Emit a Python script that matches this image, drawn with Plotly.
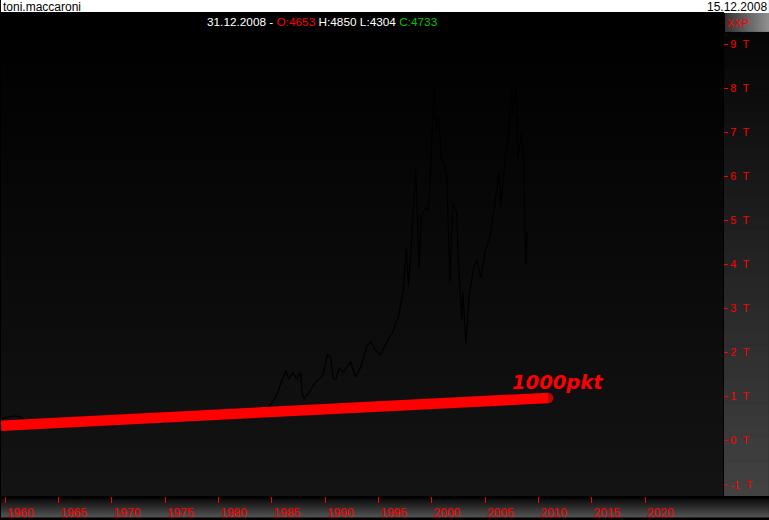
import plotly.graph_objects as go

# ---------------- data ----------------
dax_years = [1959.6, 1960.0, 1960.7, 1961.3, 1962.0, 1962.5, 1963.0, 1964.0, 1965.0, 1966.7,
             1967.0, 1968.0, 1969.5, 1969.9, 1970.5, 1971.0, 1972.0, 1973.0, 1974.7, 1975.0,
             1976.0, 1977.0, 1978.0, 1979.0, 1980.0, 1981.0, 1982.5, 1983.0, 1983.6, 1984.0,
             1984.5, 1985.0, 1985.5, 1985.9, 1986.3, 1986.6, 1987.0, 1987.3, 1987.7, 1987.85,
             1988.0, 1988.5, 1989.0, 1989.8, 1990.2, 1990.5, 1990.75, 1991.0, 1991.3, 1991.7,
             1992.4, 1992.8, 1993.3, 1993.9, 1994.3, 1994.7, 1995.2, 1995.7, 1996.3, 1996.9,
             1997.3, 1997.6, 1997.8, 1998.0, 1998.5, 1998.8, 1999.0, 1999.4, 1999.7, 2000.0,
             2000.2, 2000.4, 2000.6, 2000.9, 2001.1, 2001.4, 2001.7, 2001.95, 2002.3, 2002.5,
             2002.8, 2002.9, 2003.2, 2003.5, 2003.9, 2004.2, 2004.6, 2005.0, 2005.5, 2005.9,
             2006.3, 2006.45, 2006.9, 2007.2, 2007.5, 2007.6, 2007.9, 2008.05, 2008.4, 2008.6,
             2008.8, 2008.95]
dax_values = [0.50, 0.52, 0.56, 0.55, 0.45, 0.38, 0.42, 0.45, 0.40, 0.32,
              0.35, 0.45, 0.55, 0.56, 0.42, 0.45, 0.52, 0.45, 0.38, 0.45,
              0.50, 0.52, 0.57, 0.52, 0.48, 0.50, 0.48, 0.65, 0.75, 0.78,
              0.72, 0.85, 1.05, 1.35, 1.58, 1.40, 1.55, 1.40, 1.55, 1.05,
              0.95, 1.10, 1.30, 1.50, 1.95, 1.90, 1.40, 1.40, 1.65, 1.55,
              1.80, 1.45, 1.65, 2.15, 2.25, 2.05, 1.95, 2.20, 2.45, 2.85,
              3.40, 4.40, 3.50, 4.20, 6.15, 3.90, 5.10, 5.30, 5.20, 6.90,
              8.05, 7.10, 7.40, 6.40, 6.30, 6.00, 3.60, 5.40, 5.20, 4.00,
              2.75, 3.40, 2.20, 3.30, 3.90, 4.10, 3.70, 4.30, 4.70, 5.40,
              6.10, 5.30, 6.50, 7.00, 8.05, 7.40, 8.00, 6.40, 7.00, 6.40,
              4.00, 4.73]

trend_years = [1959.6, 2010.9]
trend_values = [0.34, 0.97]

x_tick_years = [1960, 1965, 1970, 1975, 1980, 1985, 1990, 1995, 2000, 2005, 2010, 2015, 2020]
x_tick_labels = [str(y) for y in x_tick_years]
y_tick_vals = [-1, 0, 1, 2, 3, 4, 5, 6, 7, 8, 9]
y_tick_labels = [f"{v}\u00a0\u00a0T" for v in y_tick_vals]

# ---------------- layout geometry ----------------
W, H = 769, 520
ML, MR, MT, MB = 0, 46, 13, 21
PW, PH = W - ML - MR, H - MT - MB

def px(x):
    return (x - ML) / PW

def py(y):
    return (H - MB - y) / PH

def lerp_col(c0, c1, t):
    a = [int(c0[i:i + 2], 16) for i in (1, 3, 5)]
    b = [int(c1[i:i + 2], 16) for i in (1, 3, 5)]
    c = [round(a[k] + (b[k] - a[k]) * t) for k in range(3)]
    return "rgb(%d,%d,%d)" % tuple(c)

shapes = []

def vgrad(x0, x1, y0, y1, c0, c1, n):
    h = (y1 - y0) / n
    for i in range(n):
        t = i / max(n - 1, 1)
        shapes.append(dict(type="rect", xref="paper", yref="paper",
                           x0=px(x0), x1=px(x1), y0=py(y0 + i * h), y1=py(y0 + (i + 1) * h + 0.6),
                           fillcolor=lerp_col(c0, c1, t), line=dict(width=0), layer="below"))

def hgrad(x0, x1, y0, y1, c0, c1, n):
    w = (x1 - x0) / n
    for i in range(n):
        t = i / max(n - 1, 1)
        shapes.append(dict(type="rect", xref="paper", yref="paper",
                           x0=px(x0 + i * w), x1=px(x0 + (i + 1) * w + 0.6), y0=py(y0), y1=py(y1),
                           fillcolor=lerp_col(c0, c1, t), line=dict(width=0), layer="below"))

# top white bar
shapes.append(dict(type="rect", xref="paper", yref="paper", x0=px(0), x1=px(W), y0=py(0), y1=py(13),
                   fillcolor="#ffffff", line=dict(width=0), layer="below"))
# plot area gradient
vgrad(0, 723, 13, 499, "#000000", "#131313", 40)
# right axis panel
vgrad(724, 769, 32, 499, "#050505", "#424242", 40)
# XXP box
hgrad(725, 769, 13, 32, "#353535", "#8e8e8e", 22)
# bottom strip
shapes.append(dict(type="rect", xref="paper", yref="paper", x0=px(0), x1=px(W), y0=py(499), y1=py(501.5),
                   fillcolor="#000000", line=dict(width=0), layer="below"))
vgrad(0, 769, 501.5, 520, "#0c0c0c", "#505050", 18)

fig = go.Figure()
fig.add_trace(go.Scatter(x=dax_years, y=dax_values, mode="lines",
                         line=dict(color="#000000", width=1.2), hoverinfo="skip", showlegend=False))
fig.add_trace(go.Scatter(x=trend_years, y=trend_values, mode="lines+markers",
                         line=dict(color="#ff0000", width=10.5),
                         marker=dict(color="#ff0000", size=[0, 10.5], line=dict(width=0)),
                         hoverinfo="skip", showlegend=False))

annotations = [
    dict(text="toni.maccaroni", x=px(0), y=py(6.5), xanchor="left", yanchor="middle",
         font=dict(family="Liberation Sans, Arial", size=12, color="#000000")),
    dict(text="15.12.2008", x=px(769), y=py(6.5), xanchor="right", yanchor="middle",
         font=dict(family="Liberation Sans, Arial", size=12, color="#000000")),
    dict(text=("31.12.2008 - <span style='color:#ff0000'>O:4653</span> H:4850 L:4304 "
               "<span style='color:#00c000'>C:4733</span>"),
         x=px(204), y=py(22), xanchor="left", yanchor="middle",
         font=dict(family="Liberation Sans, Arial", size=11.8, color="#ffffff")),
    dict(text="XXP", x=px(725), y=py(23), xanchor="left", yanchor="middle",
         font=dict(family="Liberation Sans, Arial", size=11, color="#ff0000")),
]
for a in annotations:
    a.update(xref="paper", yref="paper", showarrow=False)

annotations.append(dict(text="<b><i>1000pkt</i></b>", xref="x", yref="y",
                        x=1960 + (557 - 4.3) / 10.68, y=(443.3 - 384.5) / 44.3,
                        xanchor="center", yanchor="middle", showarrow=False,
                        font=dict(family="DejaVu Sans", size=19.5, color="#ff0000")))

x0r = 1960 - 4.3 / 10.68
x1r = 1960 + (723 - 4.3) / 10.68
y0r = (443.3 - 499) / 44.3
y1r = (443.3 - 13) / 44.3

fig.update_layout(
    width=W, height=H,
    margin=dict(l=ML, r=MR, t=MT, b=MB, pad=0),
    paper_bgcolor="#000000", plot_bgcolor="rgba(0,0,0,0)",
    shapes=shapes, annotations=annotations, showlegend=False,
    xaxis=dict(range=[x0r, x1r], tickvals=x_tick_years, ticktext=x_tick_labels,
               ticks="outside", ticklen=6, tickwidth=1, tickcolor="#ff0000",
               tickfont=dict(family="Liberation Sans, Arial", size=12, color="#ff0000"),
               ticklabelshift=15, ticklabelstandoff=0,
               showgrid=False, zeroline=False, showline=True, linecolor="#000000",
               linewidth=1, mirror=True, fixedrange=True),
    yaxis=dict(range=[y0r, y1r], side="right", tickvals=y_tick_vals, ticktext=y_tick_labels,
               ticks="outside", ticklen=4, tickwidth=1, tickcolor="#ff0000",
               tickfont=dict(family="Liberation Sans, Arial", size=11, color="#ff0000"),
               showgrid=False, zeroline=False, showline=True, linecolor="#000000",
               linewidth=1, mirror=True, fixedrange=True),
)

fig.write_html("out.html", config={"displayModeBar": False},
               post_script="document.body.style.margin='0';document.body.style.overflow='hidden';")
